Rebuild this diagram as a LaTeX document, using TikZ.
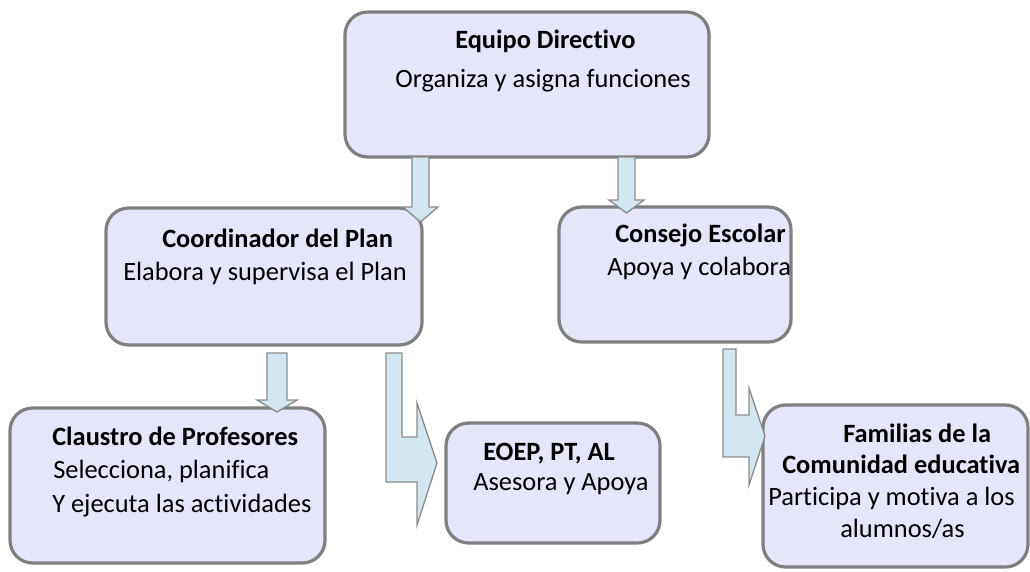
\documentclass[tikz,border=0pt]{standalone}
\usepackage{fontspec}
\setmainfont{Carlito}[Ligatures=NoCommon]
\usetikzlibrary{fit}
\definecolor{boxfill}{HTML}{E6E6FA}
\definecolor{boxline}{HTML}{7F7F7F}
\definecolor{arrfill}{HTML}{D3E7F3}
\definecolor{arrline}{HTML}{8C8C8C}
\tikzset{
  box/.style={draw=boxline, fill=boxfill, line width=2.4pt, rounded corners=17pt, inner sep=0pt, outer sep=0pt},
  blockarrow/.style={draw=arrline, fill=arrfill, line width=1pt, line join=miter},
  txt/.style={anchor=base west, inner sep=0pt, font=\fontsize{19.8pt}{24pt}\selectfont},
  btxt/.style={txt, font=\fontsize{19.8pt}{24pt}\selectfont\bfseries},
}
\begin{document}
\begin{tikzpicture}[x=0.75pt, y=-0.75pt]
\useasboundingbox (0,0) rectangle (1030,571);
% boxes
\node[box, fit={(345,12) (709,157)}] (ed) {};
\node[box, fit={(106,208) (422,345)}] (cp) {};
\node[box, fit={(559,207) (791,342)}] (ce) {};
\node[box, fit={(10,408) (325,563)}] (cl) {};
\node[box, fit={(446,423) (660,543)}] (eo) {};
\node[box, fit={(763,405) (1028,567)}] (fa) {};
% texts
\node[btxt] (ed1) at (455,48) {Equipo Directivo};
\node[txt]  (ed2) at (395,87) {Organiza y asigna funciones};
\node[btxt] (cp1) at (162,247) {Coordinador del Plan};
\node[txt]  (cp2) at (123,280) {Elabora y supervisa el Plan};
\node[btxt] (ce1) at (615,242) {Consejo Escolar};
\node[txt]  (ce2) at (607,275) {Apoya y colabora};
\node[btxt] (cl1) at (52,445) {Claustro de Profesores};
\node[txt]  (cl2) at (53,478) {Selecciona, planifica};
\node[txt]  (cl3) at (52,512) {Y ejecuta las actividades};
\node[btxt] (eo1) at (483,460) {EOEP, PT, AL};
\node[txt]  (eo2) at (473,490) {Asesora y Apoya};
\node[btxt] (fa1) at (843,442) {Familias de la};
\node[btxt] (fa2) at (782,473) {Comunidad educativa};
\node[txt]  (fa3) at (768,505) {Participa y motiva a los};
\node[txt]  (fa4) at (840,537) {alumnos/as};
% block arrows
\draw[blockarrow] (412,157) -- (429,157) -- (429,207) -- (438,207) -- (420.5,222) -- (403,207) -- (412,207) -- cycle;
\draw[blockarrow] (618,157) -- (635,157) -- (635,200) -- (644,200) -- (626.5,213) -- (609,200) -- (618,200) -- cycle;
\draw[blockarrow] (267,353) -- (287,353) -- (287,400) -- (297,400) -- (277,412) -- (257,400) -- (267,400) -- cycle;
\draw[blockarrow] (386,353) -- (402,353) -- (402,437) -- (417,437) -- (417,403) -- (437,463) -- (417,525) -- (417,482) -- (386,482) -- cycle;
\draw[blockarrow] (723,349) -- (736,349) -- (736,415) -- (749,415) -- (749,388) -- (765,436) -- (749,485) -- (749,457) -- (723,457) -- cycle;
\end{tikzpicture}
\end{document}
